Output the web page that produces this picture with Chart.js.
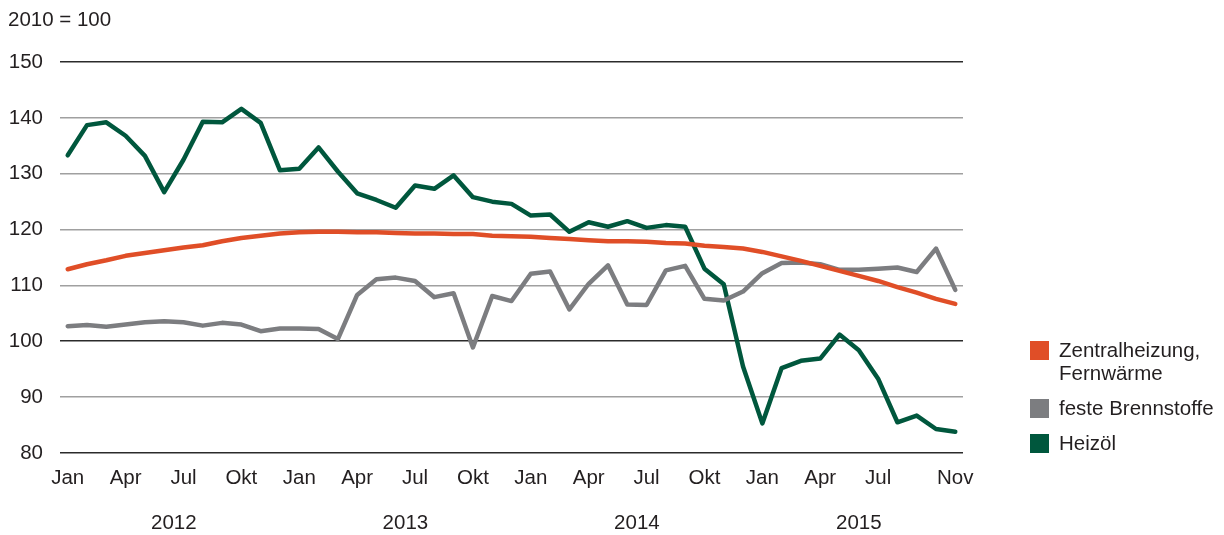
<!DOCTYPE html>
<html>
<head>
<meta charset="utf-8">
<script src="https://cdn.jsdelivr.net/npm/chart.js@4"></script>
<style>
    body { margin: 0; background: #fff; font-family: "Liberation Sans", Arial, sans-serif; }
    #wrap { position: relative; width: 1224px; height: 535px; }
    .unit { position: absolute; left: 8px; top: 7px; font-size: 20.5px; color: #231f20; }
    .legend { position: absolute; left: 1030px; top: 338px; font-size: 20.5px; color: #231f20; }
    .legend .item { display: flex; align-items: flex-start; margin-bottom: 12px; line-height: 23px; }
    .legend .sw { width: 19px; height: 19px; margin-right: 10px; margin-top: 3px; flex: none; }
</style>
</head>
<body>
<div id="wrap">
    <canvas id="c" width="1224" height="535"></canvas>
    <div class="unit">2010 = 100</div>
    <div class="legend" id="legend"></div>
</div>
<script>
const MONTHS = ['Jan','Feb','Mär','Apr','Mai','Jun','Jul','Aug','Sep','Okt','Nov','Dez'];
const YEARS = ['2012','2013','2014','2015'];
const TICK_IDX = [0,3,6,9,12,15,18,21,24,27,30,33,36,39,42,46];

const zentral = [
    112.9,113.8,114.5,115.3,115.8,116.3,116.8,117.2,117.9,118.5,118.9,119.3,
    119.5,119.6,119.6,119.5,119.5,119.4,119.3,119.3,119.2,119.2,118.9,118.8,
    118.7,118.5,118.3,118.1,117.9,117.9,117.8,117.6,117.5,117.1,116.9,116.6,
    116.0,115.2,114.4,113.5,112.6,111.7,110.8,109.7,108.7,107.6,106.7
];
const feste = [
    102.7,102.9,102.6,103.0,103.4,103.6,103.4,102.8,103.3,103.0,101.8,102.3,
    102.3,102.2,100.4,108.3,111.1,111.4,110.8,107.9,108.6,98.9,108.1,107.2,
    112.1,112.5,105.7,110.3,113.6,106.6,106.5,112.7,113.5,107.6,107.3,108.9,
    112.2,114.0,114.1,113.8,112.8,112.8,113.0,113.2,112.4,116.6,109.2
];
const heizoel = [
    133.3,138.7,139.2,136.8,133.2,126.7,132.5,139.3,139.2,141.6,139.1,130.6,
    130.9,134.7,130.4,126.5,125.3,123.9,127.9,127.3,129.7,125.8,125.0,124.6,
    122.5,122.7,119.6,121.3,120.5,121.5,120.3,120.8,120.5,113.0,110.2,95.5,
    85.3,95.2,96.5,96.9,101.2,98.4,93.3,85.5,86.7,84.3,83.8
];

const labels = heizoel.map((_, i) => MONTHS[i % 12]);
const series = [
    { name: ['Zentralheizung,', 'Fernwärme'], data: zentral, color: '#e04e27' },
    { name: ['feste Brennstoffe'], data: feste, color: '#7c7d80' },
    { name: ['Heizöl'], data: heizoel, color: '#00573d' }
];

const FONT = { family: '"Liberation Sans", Arial, sans-serif', size: 20.5 };

const yearLabels = {
    id: 'yearLabels',
    afterDraw(chart) {
        const ctx = chart.ctx, x = chart.scales.x;
        ctx.save();
        ctx.font = '20.5px "Liberation Sans", Arial, sans-serif';
        ctx.fillStyle = '#231f20';
        ctx.textAlign = 'center';
        ctx.textBaseline = 'middle';
        YEARS.forEach((y, k) => {
            const first = k * 12, last = Math.min(first + 11, labels.length - 1);
            ctx.fillText(y, (x.getPixelForValue(first) + x.getPixelForValue(last)) / 2, 523);
        });
        ctx.restore();
    }
};

new Chart(document.getElementById('c'), {
    type: 'line',
    data: {
        datasets: series.map(s => ({
            data: s.data.map((v, i) => ({ x: i, y: v })),
            borderColor: s.color, borderWidth: 4.5, pointRadius: 0, tension: 0,
            borderJoinStyle: 'round', borderCapStyle: 'round'
        }))
    },
    options: {
        responsive: false, animation: false,
        layout: { padding: { top: 62, right: 261, left: 0, bottom: 0 } },
        plugins: { legend: { display: false }, tooltip: { enabled: false } },
        scales: {
            x: {
                type: 'linear', min: -0.4, max: 46.4,
                afterBuildTicks: s => { s.ticks = TICK_IDX.map(v => ({ value: v })); },
                afterFit: s => { s.height = 82; },
                grid: { display: false, drawTicks: false },
                border: { display: false },
                ticks: { callback: v => labels[v], font: FONT, color: '#231f20', padding: 13, maxRotation: 0, autoSkip: false }
            },
            y: {
                min: 80, max: 150,
                afterFit: s => { s.width = 60; },
                ticks: { stepSize: 10, font: FONT, color: '#231f20', padding: 17 },
                border: { display: false },
                grid: {
                    drawTicks: false,
                    color: c => [80, 100, 150].includes(c.tick.value) ? '#2b2b2b' : '#a0a0a0',
                    lineWidth: 1.6
                }
            }
        }
    },
    plugins: [yearLabels]
});

document.getElementById('legend').innerHTML = series.map(s =>
    `<div class="item"><span class="sw" style="background:${s.color}"></span><span>${s.name.join('<br>')}</span></div>`
).join('');
</script>
</body>
</html>
